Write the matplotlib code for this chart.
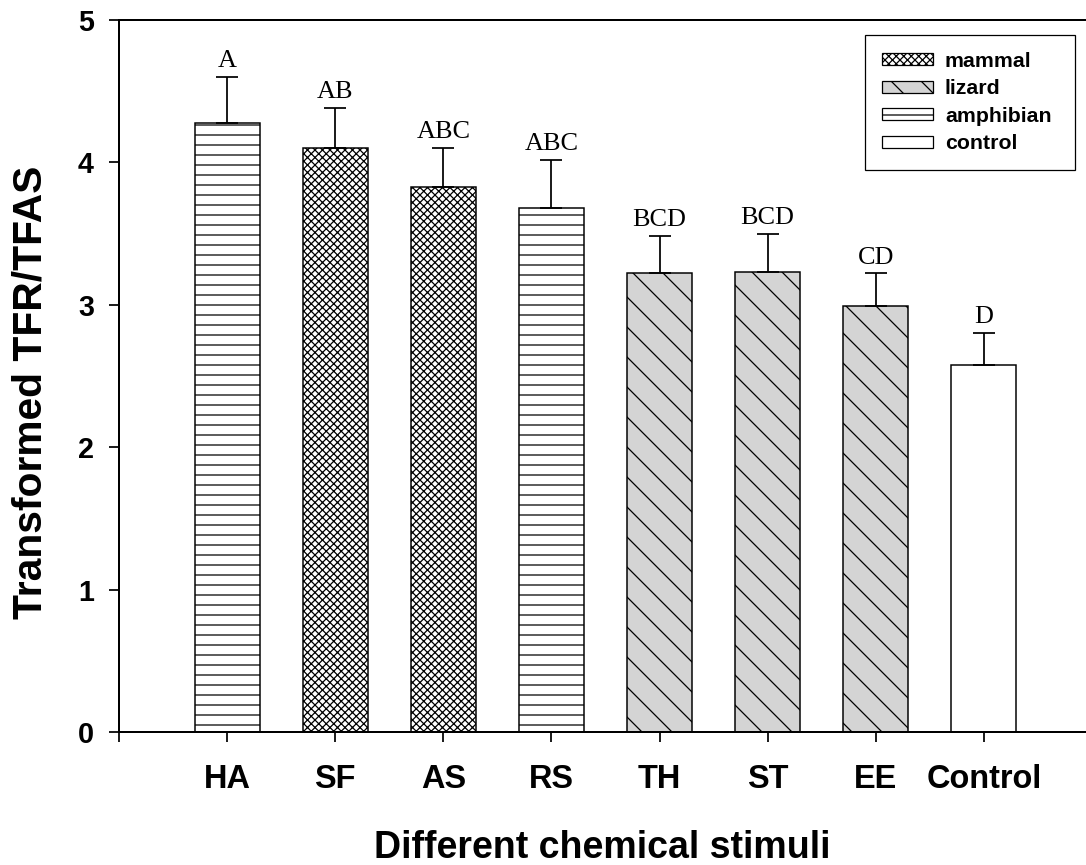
import numpy as np
import matplotlib
matplotlib.use('Agg')
import matplotlib.pyplot as plt
from matplotlib.patches import Patch

# data
stimuli = ['HA', 'SF', 'AS', 'RS', 'TH', 'ST', 'EE', 'Control']
means = [4.28, 4.10, 3.83, 3.68, 3.22, 3.23, 2.99, 2.58]
errs = [0.32, 0.28, 0.27, 0.34, 0.26, 0.27, 0.23, 0.22]
letters = ['A', 'AB', 'ABC', 'ABC', 'BCD', 'BCD', 'CD', 'D']
groups = ['amphibian', 'mammal', 'mammal', 'amphibian', 'lizard', 'lizard', 'lizard', 'control']

styles = {'mammal': dict(facecolor='white', hatch='xxxxxxxx'),
          'lizard': dict(facecolor='#d4d4d4', hatch='\\\\'),
          'amphibian': dict(facecolor='white', hatch='---'),
          'control': dict(facecolor='white', hatch='')}

plt.rcParams['font.family'] = 'Liberation Sans'
plt.rcParams['hatch.linewidth'] = 0.5

fig = plt.figure(figsize=(1086/180, 865/180), dpi=180)
ax = fig.add_axes([119/1086, 133/865, 967/1086, 712/865])

x = np.arange(1, len(stimuli)+1)
for i in range(len(stimuli)):
    st = styles[groups[i]]
    ax.bar(x[i], means[i], 0.6, facecolor=st['facecolor'], hatch=st['hatch'],
           edgecolor='black', linewidth=0.6)
ax.errorbar(x, means, yerr=[np.zeros(len(errs)), errs], fmt='none', ecolor='black',
            elinewidth=0.7, capsize=4.4, capthick=0.7)
for i in range(len(stimuli)):
    ax.text(x[i], means[i]+errs[i]+0.07, letters[i], ha='center', va='baseline',
            fontsize=10.5, family='Liberation Serif')

ax.set_xlim(0, 8.945)
ax.set_ylim(0, 5)
ax.set_xticks([0] + list(x))
ax.set_xticklabels([''] + stimuli, fontsize=13, fontweight='bold')
ax.set_yticks(range(6))
ax.set_yticklabels([str(v) for v in range(6)], fontsize=11.5, fontweight='bold')
ax.tick_params(direction='out', length=4, width=0.7, pad=6)
ax.tick_params(axis='x', pad=9)
for s in ['left', 'bottom', 'top']:
    ax.spines[s].set_linewidth(0.8)
ax.spines['right'].set_visible(False)

ax.set_xlabel('Different chemical stimuli', fontsize=15, fontweight='bold', labelpad=14)
ax.set_ylabel('Transformed TFR/TFAS', fontsize=16.3, fontweight='bold')
ax.yaxis.set_label_coords(-0.072, 0.4775)

handles = [Patch(edgecolor='black', linewidth=0.5, **styles[g]) for g in ['mammal', 'lizard', 'amphibian', 'control']]
leg = ax.legend(handles, ['mammal', 'lizard', 'amphibian', 'control'], loc='upper left',
                bbox_to_anchor=(0.7715, 0.979, 0.2172, 0), mode='expand', borderaxespad=0,
                fancybox=False, edgecolor='black', framealpha=1,
                prop={'weight': 'bold', 'size': 8.5},
                handlelength=2.4, handleheight=0.5, labelspacing=0.4, handletextpad=0.56,
                borderpad=0.8)
leg.get_frame().set_linewidth(0.5)

fig.savefig('out.png', dpi=180)
